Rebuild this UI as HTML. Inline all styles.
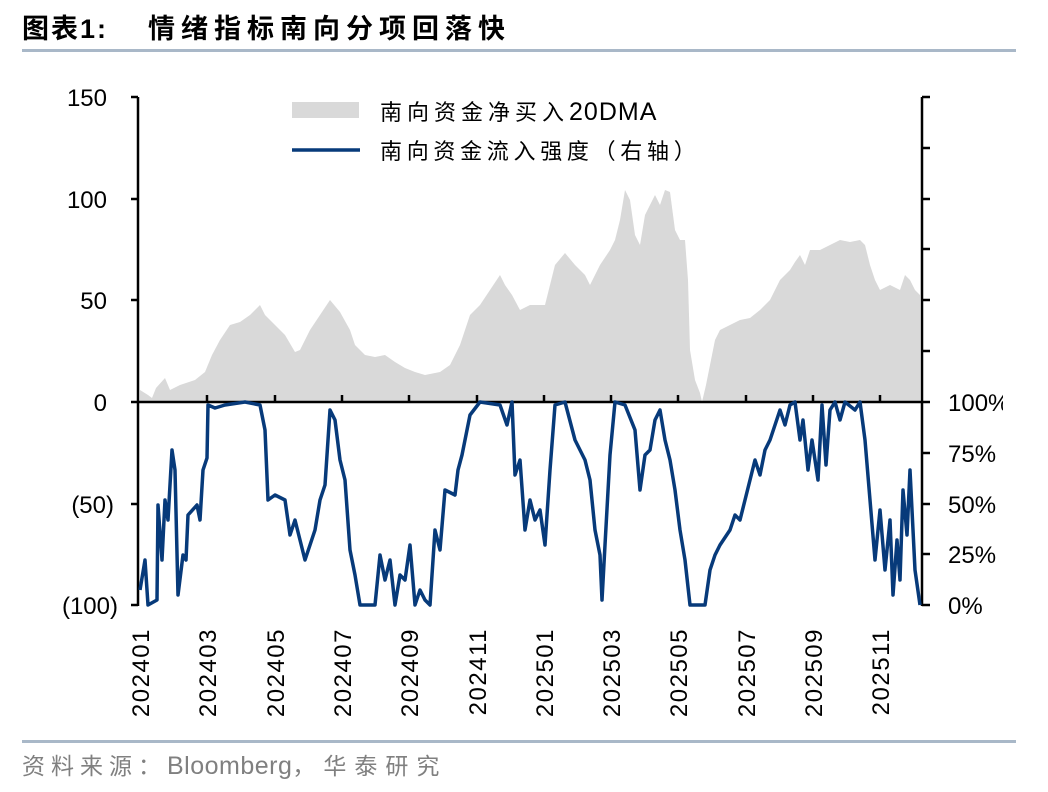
<!DOCTYPE html>
<html><head><meta charset="utf-8"><style>
html,body{margin:0;padding:0;background:#fff;}
svg{display:block;}
text{font-family:"Liberation Sans","Noto Sans CJK SC",sans-serif;}
</style></head><body>
<svg width="1048" height="792" viewBox="0 0 1048 792" xmlns="http://www.w3.org/2000/svg">
<defs><clipPath id="rc"><rect x="0" y="0" width="1003" height="792"/></clipPath></defs>
<text x="22" y="38" font-size="27" font-weight="bold" fill="#000" letter-spacing="2">图表1:</text>
<text x="148" y="38" font-size="27" font-weight="bold" fill="#000" letter-spacing="6">情绪指标南向分项回落快</text>
<rect x="22" y="49" width="994" height="3" fill="#a9b8c8"/>
<polygon fill="#d9d9d9" points="140,402 140,390 148,395 152,398 156,388 165,378 170,390 180,385 195,380 205,372 212,355 220,340 230,325 240,322 250,315 260,305 265,315 275,325 285,335 295,352 300,350 310,330 320,315 330,300 340,312 350,330 355,345 365,355 375,357 385,355 395,362 405,368 415,372 425,375 440,372 450,365 460,345 470,315 480,305 490,290 500,275 505,285 512,295 520,310 530,305 545,305 555,265 565,253 575,265 585,275 590,285 600,265 610,250 615,240 620,220 625,190 630,200 635,235 640,245 645,215 650,205 655,195 660,205 665,190 670,192 675,230 680,240 685,240 688,280 690,350 695,380 700,393 702,402 706,385 710,365 715,340 720,330 730,325 740,320 750,318 760,310 770,300 775,290 780,280 790,270 795,262 800,255 805,265 810,250 820,250 830,245 840,240 850,242 860,240 865,245 870,265 875,280 880,290 890,285 900,290 905,275 910,280 915,290 920,295 920,402"/>
<line x1="138" y1="97" x2="138" y2="606" stroke="#000" stroke-width="2.5"/>
<line x1="922" y1="97" x2="922" y2="606" stroke="#000" stroke-width="2.5"/>
<line x1="138" y1="402" x2="922" y2="402" stroke="#000" stroke-width="2.5"/>
<g stroke="#000" stroke-width="2.5">
<line x1="131" y1="97" x2="138" y2="97"/><line x1="131" y1="199" x2="138" y2="199"/><line x1="131" y1="300" x2="138" y2="300"/><line x1="131" y1="402" x2="138" y2="402"/><line x1="131" y1="504" x2="138" y2="504"/><line x1="131" y1="605" x2="138" y2="605"/>
<line x1="922" y1="97" x2="930" y2="97"/><line x1="922" y1="148" x2="930" y2="148"/><line x1="922" y1="199" x2="930" y2="199"/><line x1="922" y1="249" x2="930" y2="249"/><line x1="922" y1="300" x2="930" y2="300"/><line x1="922" y1="351" x2="930" y2="351"/><line x1="922" y1="402" x2="930" y2="402"/><line x1="922" y1="453" x2="930" y2="453"/><line x1="922" y1="504" x2="930" y2="504"/><line x1="922" y1="554" x2="930" y2="554"/><line x1="922" y1="605" x2="930" y2="605"/>
<line x1="207" y1="402" x2="207" y2="395"/><line x1="275" y1="402" x2="275" y2="395"/><line x1="342" y1="402" x2="342" y2="395"/><line x1="409" y1="402" x2="409" y2="395"/><line x1="477" y1="402" x2="477" y2="395"/><line x1="544" y1="402" x2="544" y2="395"/><line x1="611" y1="402" x2="611" y2="395"/><line x1="678" y1="402" x2="678" y2="395"/><line x1="746" y1="402" x2="746" y2="395"/><line x1="813" y1="402" x2="813" y2="395"/><line x1="880" y1="402" x2="880" y2="395"/>
</g>
<polyline fill="none" stroke="#073a7a" stroke-width="3.5" stroke-linejoin="round" points="140,590 145,560 148,605 157,600 158,505 162,560 165,500 168,520 172,450 175,470 178,595 183,555 186,560 188,515 197,505 200,520 203,470 207,458 208,405 215,408 225,405 245,402 260,405 265,430 268,500 275,495 285,500 290,535 295,520 300,540 305,560 310,545 315,530 320,500 325,485 330,410 335,420 340,460 345,480 350,550 355,575 360,605 375,605 380,555 385,580 390,560 395,605 400,575 405,580 410,545 415,605 420,590 425,600 430,605 435,530 440,550 445,490 455,495 458,470 462,455 470,415 480,402 500,405 507,425 512,402 515,475 520,460 525,530 530,500 535,520 540,510 545,545 550,470 555,405 565,402 575,440 585,460 590,480 595,530 600,555 602,600 605,545 610,455 615,402 625,405 635,430 640,490 645,455 650,450 655,420 660,410 665,440 670,460 675,490 680,530 685,560 690,605 705,605 710,570 715,555 720,545 730,530 735,515 740,520 745,500 750,480 755,460 760,475 765,450 770,440 775,425 780,410 785,425 790,405 795,402 800,440 803,420 808,470 812,440 818,480 822,405 826,465 830,410 835,402 840,420 845,402 855,410 860,402 865,440 870,500 875,560 880,510 885,570 890,520 893,595 897,540 900,580 903,490 907,535 910,470 915,570 920,605"/>
<rect x="292" y="102" width="67" height="16" fill="#d9d9d9"/>
<text x="380" y="120" font-size="22" fill="#000"><tspan letter-spacing="5">南向资金净买入</tspan><tspan font-size="25" letter-spacing="1">20DMA</tspan></text>
<line x1="292" y1="150" x2="360" y2="150" stroke="#073a7a" stroke-width="3.5"/>
<text x="380" y="159" font-size="22" fill="#000" letter-spacing="4.7">南向资金流入强度（右轴）</text>
<g font-size="24" fill="#000" text-anchor="end">
<text x="107" y="106">150</text><text x="107" y="208">100</text><text x="107" y="309">50</text><text x="107" y="411">0</text><text x="114" y="513">(50)</text><text x="118" y="614">(100)</text>
</g>
<g font-size="24" fill="#000" clip-path="url(#rc)">
<text x="948" y="411">100%</text><text x="948" y="462">75%</text><text x="948" y="513">50%</text><text x="948" y="563">25%</text><text x="948" y="614">0%</text>
</g>
<g font-size="24" fill="#000" text-anchor="end" letter-spacing="1.5">
<text transform="translate(149,628) rotate(-90)">202401</text>
<text transform="translate(216,628) rotate(-90)">202403</text>
<text transform="translate(284,628) rotate(-90)">202405</text>
<text transform="translate(351,628) rotate(-90)">202407</text>
<text transform="translate(418,628) rotate(-90)">202409</text>
<text transform="translate(486,628) rotate(-90)">202411</text>
<text transform="translate(553,628) rotate(-90)">202501</text>
<text transform="translate(620,628) rotate(-90)">202503</text>
<text transform="translate(687,628) rotate(-90)">202505</text>
<text transform="translate(755,628) rotate(-90)">202507</text>
<text transform="translate(822,628) rotate(-90)">202509</text>
<text transform="translate(889,628) rotate(-90)">202511</text>
</g>
<rect x="22" y="740" width="994" height="3" fill="#a9b8c8"/>
<text x="22" y="774" font-size="23" fill="#808080"><tspan letter-spacing="6">资料来源：</tspan><tspan font-size="25" letter-spacing="0.5">Bloomberg</tspan><tspan letter-spacing="8">，华泰研究</tspan></text>
</svg>
</body></html>
